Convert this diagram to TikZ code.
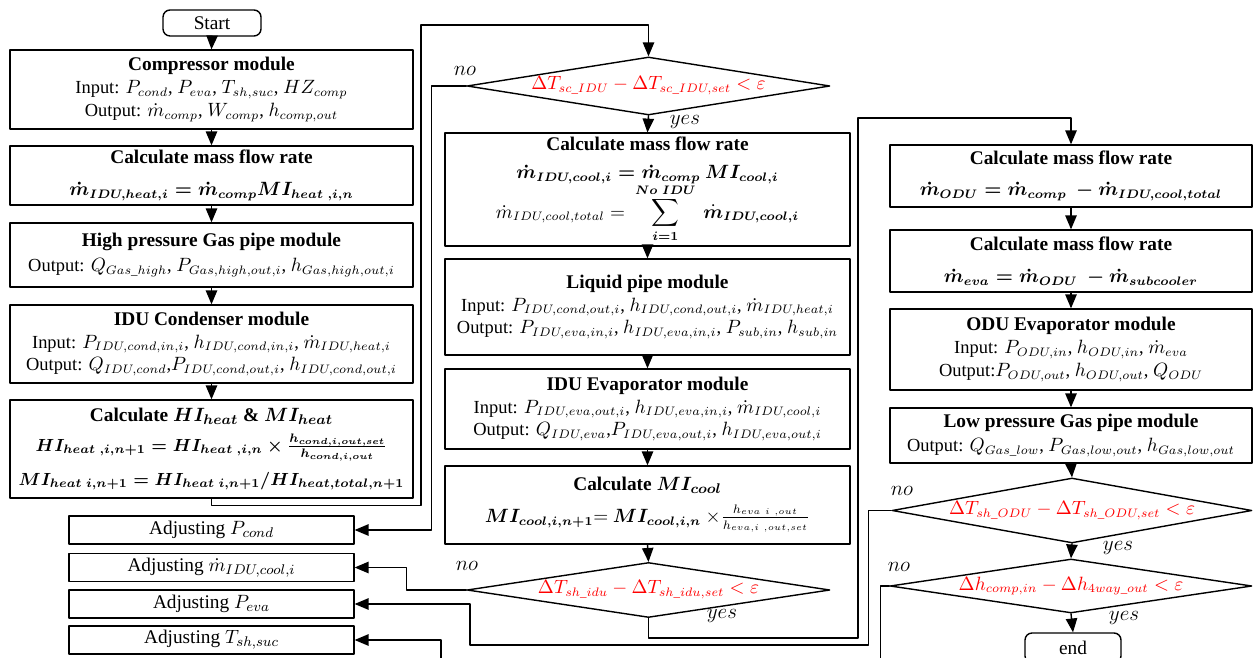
\documentclass[tikz,border=0pt]{standalone}
\usepackage{amsmath,bm}
\usepackage{fontspec}
\setmainfont{Liberation Serif}
\usetikzlibrary{arrows}
\usetikzlibrary{shapes.geometric}

\newcommand{\otsikko}[1]{{\fontsize{11}{13}\selectfont\textbf{#1}}}

\begin{document}
\begin{tikzpicture}[line cap=round,line join=round,>=triangle 45,x=0.02cm,y=-0.02cm,
	every node/.style={font=\fontsize{10.5}{13}\selectfont},
	modbox/.style={draw,line width=0.8pt,rectangle,align=center,inner sep=2pt},
	lbox/.style={modbox,minimum width=8.06cm},
	mbox/.style={modbox,minimum width=8.1cm},
	rbox/.style={modbox,minimum width=7.24cm},
	adjbox/.style={modbox,minimum width=5.7cm,minimum height=0.56cm,font=\fontsize{11}{13}\selectfont},
	termbox/.style={modbox,rounded corners=4pt,minimum width=1.96cm,minimum height=0.52cm,font=\fontsize{11}{13}\selectfont},
	decision/.style={draw,line width=0.8pt,diamond,inner sep=0pt,text=red},
	lbl/.style={font=\fontsize{12}{14}\selectfont},
	flow/.style={->,line width=0.8pt}]

		\useasboundingbox (0,0) rectangle (1254,658);
		\clip (0,0) rectangle (1254,658);

		%vasen sarake
		\node[termbox] (start) at (212,23) {Start};
		\node[lbox,minimum height=1.58cm] (comp) at (211.5,89.5) {\otsikko{Compressor module}\\
		Input: $P_{cond}$, $P_{eva}$, $T_{sh,suc}$, $HZ_{comp}$\\
		Output: $\dot m_{comp}$, $W_{comp}$, $h_{comp,out}$};
		\node[lbox,minimum height=1.18cm] (mheat) at (211.5,175.5) {\otsikko{Calculate mass flow rate}\\[5pt]
		{\boldmath$\dot m_{IDU,heat,i} =\dot m_{comp}MI_{heat\ ,i,n}$}};
		\node[lbox,minimum height=1.28cm] (hgas) at (211.5,255) {\otsikko{High pressure\ Gas pipe module}\\[1pt]
		Output: $Q_{Gas\_high}$,\ $P_{Gas,high,out,i}$,\ $h_{Gas,high,out,i}$};
		\node[lbox,minimum height=1.56cm] (cond) at (211.5,344) {\otsikko{IDU Condenser\ module}\\
		Input: $P_{IDU,cond,in,i}$, $h_{IDU,cond,in,i}$, $\dot m_{IDU,heat,i}$\\
		Output: $Q_{IDU,cond}$,$P_{IDU,cond,out,i}$, $h_{IDU,cond,out,i}$};
		\node[lbox,minimum height=1.96cm,font=\fontsize{10}{12}\selectfont] (himi) at (211.5,449)
		{\otsikko{Calculate {\boldmath$HI_{heat}$} \& {\boldmath$MI_{heat}$}}\\[5pt]
		{\boldmath$HI_{heat\ ,i,n+1} = HI_{heat\ ,i,n} \times \frac{h_{cond,i,out,set}}{h_{cond,i,out}}$}\\[5pt]
		{\boldmath$MI_{heat\ i,n+1}= HI_{heat\ i,n+1}/HI_{heat,total,n+1}$}};

		%saadot
		\foreach \n/\y/\t in {1/530/{$P_{cond}$},2/567.5/{$\dot m_{IDU,cool,i}$},3/604/{$P_{eva}$},4/640/{$T_{sh,suc}$}}
		{\node[adjbox] (adj\n) at (211.5,\y) {Adjusting \t};
		}

		%keskisarake
		\node[decision,aspect=6.26,minimum width=7.26cm,minimum height=1.16cm] (dec1) at (648.5,86)
		{$\Delta T_{sc\_IDU}-\Delta T_{sc\_IDU,set}<\varepsilon$};
		\node[mbox,minimum height=2.22cm] (mcool) at (647.5,189.5) {\otsikko{Calculate mass flow rate}\\[3pt]
		{\boldmath$\dot m_{IDU,cool,i} = \dot m_{comp}\ MI_{cool,i}$}\\[-1pt]
		$\displaystyle \dot m_{IDU,cool,total} = \ \sum_{\bm{i=1}}^{\bm{No\ IDU}}\ \bm{\dot m_{IDU,cool,i}}$};
		\node[mbox,minimum height=1.92cm] (liq) at (647.5,307) {\otsikko{Liquid\ pipe module}\\
		Input: $P_{IDU,cond,out,i}$, $h_{IDU,cond,out,i}$, $\dot m_{IDU,heat,i}$\\
		Output: $P_{IDU,eva,in,i}$, $h_{IDU,eva,in,i}$, $P_{sub,in}$, $h_{sub,in}$};
		\node[mbox,minimum height=1.6cm] (ievap) at (647.5,409) {\otsikko{IDU Evaporator module}\\
		Input: $P_{IDU,eva,out,i}$, $h_{IDU,eva,in,i}$, $\dot m_{IDU,cool,i}$\\
		Output: $Q_{IDU,eva}$,$P_{IDU,eva,out,i}$, $h_{IDU,eva,out,i}$};
		\node[mbox,minimum height=1.56cm] (micool) at (647.5,505) {\otsikko{Calculate {\boldmath$MI_{cool}$}}\\[5pt]
		{\boldmath$MI_{cool,i,n+1}$}$=$ {\boldmath$MI_{cool,i,n}$} $\times\frac{h_{eva\ i\ ,out}}{h_{eva,i\ ,out,set}}$};
		\node[decision,aspect=6.6,minimum width=7.26cm,minimum height=1.1cm] (dec2) at (648.5,590)
		{$\Delta T_{sh\_idu}-\Delta T_{sh\_idu,set}<\varepsilon$};

		%oikea sarake
		\node[rbox,minimum height=1.24cm] (modu) at (1071,176) {\otsikko{Calculate mass flow rate}\\[5pt]
		{\boldmath$\dot m_{ODU}=\dot m_{comp}\ -\dot m_{IDU,cool,total}$}};
		\node[rbox,minimum height=1.24cm] (meva) at (1071,261) {\otsikko{Calculate mass flow rate}\\[5pt]
		{\boldmath$\dot m_{eva}=\dot m_{ODU}\ -\dot m_{subcooler}$}};
		\node[rbox,minimum height=1.62cm] (oevap) at (1071,349.5) {\otsikko{ODU Evaporator module}\\
		Input: $P_{ODU,in}$, $h_{ODU,in}$, $\dot m_{eva}$\\
		Output:$P_{ODU,out}$, $h_{ODU,out}$, $Q_{ODU}$};
		\node[rbox,minimum height=1.1cm] (lgas) at (1071,435.5) {\otsikko{Low pressure\ Gas pipe module}\\[1pt]
		Output: $Q_{Gas\_low}$,\ $P_{Gas,low,out}$,\ $h_{Gas,low,out}$};
		\node[decision,aspect=5.5,minimum width=7.2cm,minimum height=1.3cm] (dec3) at (1072,510.5)
		{$\Delta T_{sh\_ODU}-\Delta T_{sh\_ODU,set}<\varepsilon$};
		\node[decision,aspect=6.7,minimum width=7.24cm,minimum height=1.08cm] (dec4) at (1071,586)
		{$\Delta h_{comp,in}-\Delta h_{4way\_out}<\varepsilon$};
		\node[termbox,minimum width=1.92cm,minimum height=0.6cm] (endn) at (1073,648) {end};

		%no / yes
		\node[lbl] (no1) at (465,71) {$no$};
		\node[lbl] (yes1) at (685,122) {$yes$};
		\node[lbl] (no2) at (467,566) {$no$};
		\node[lbl] (yes2) at (722,616) {$yes$};
		\node[lbl] (no3) at (902,491) {$no$};
		\node[lbl] (yes3) at (1118,548) {$yes$};
		\node[lbl] (no4) at (899,567) {$no$};
		\node[lbl] (yes4) at (1124,618) {$yes$};

		%suorat nuolet
		\foreach \a/\b in {start/comp,comp/mheat,mheat/hgas,hgas/cond,cond/himi,
			dec1/mcool,mcool/liq,liq/ievap,ievap/micool,micool/dec2,
			modu/meva,meva/oevap,oevap/lgas,lgas/dec3,dec3/dec4,dec4/endn}
		{\draw[flow] (\a.south) -- (\b.north);
		}

		%silmukat
		\draw[flow] (himi.south) -- ++(0,7) -| (421,25) -| (dec1.north);
		\draw[flow] (dec1.west) -- ++(-35,0) |- (adj1.east);
		\draw[flow] (dec2.west) -- ++(-60,0) |- (adj2.east);
		\draw[flow] (dec2.south) -- ++(0,20) -| (858,118) -| (modu.north);
		\draw[flow] (dec3.west) -- ++(-23,0) |- (470,645) |- (adj3.east);
		\draw[flow] (dec4.west) -- ++(-9,0) |- (441,675) |- (adj4.east);

	\end{tikzpicture}
\end{document}
